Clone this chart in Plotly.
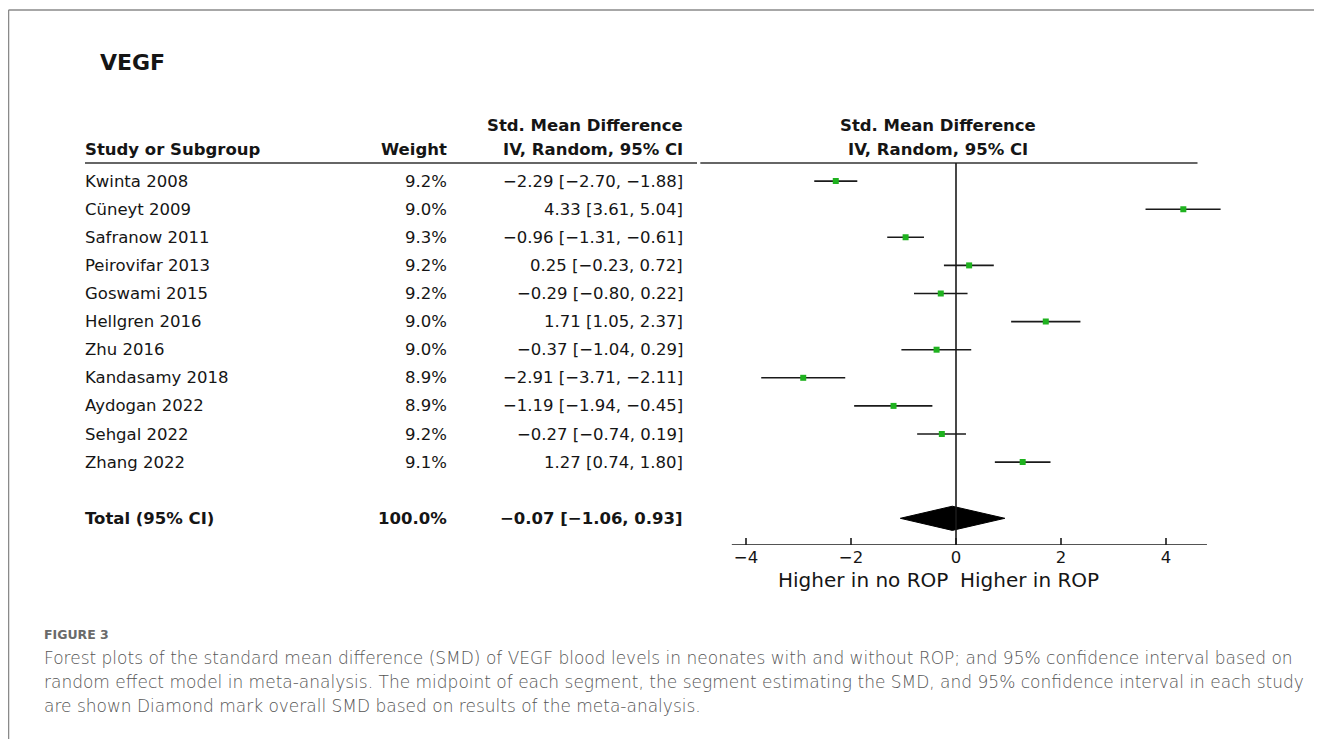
import plotly.graph_objects as go

# ---------------- data ----------------
studies = ["Kwinta 2008", "Cüneyt 2009", "Safranow 2011", "Peirovifar 2013", "Goswami 2015",
           "Hellgren 2016", "Zhu 2016", "Kandasamy 2018", "Aydogan 2022", "Sehgal 2022", "Zhang 2022"]
weights = ["9.2%", "9.0%", "9.3%", "9.2%", "9.2%", "9.0%", "9.0%", "8.9%", "8.9%", "9.2%", "9.1%"]
smd = [-2.29, 4.33, -0.96, 0.25, -0.29, 1.71, -0.37, -2.91, -1.19, -0.27, 1.27]
ci_low = [-2.70, 3.61, -1.31, -0.23, -0.80, 1.05, -1.04, -3.71, -1.94, -0.74, 0.74]
ci_high = [-1.88, 5.04, -0.61, 0.72, 0.22, 2.37, 0.29, -2.11, -0.45, 0.19, 1.80]

total_label = "Total (95% CI)"
total_weight = "100.0%"
total_smd = -0.07
total_low = -1.06
total_high = 0.93

tick_vals = [-4, -2, 0, 2, 4]
tick_text = ["\u22124", "\u22122", "0", "2", "4"]

title_text = "VEGF"
caption_label = "FIGURE 3"
caption_lines = [
    "Forest plots of the standard mean difference (SMD) of VEGF blood levels in neonates with and without ROP; and 95% confidence interval based on",
    "random effect model in meta-analysis. The midpoint of each segment, the segment estimating the SMD, and 95% confidence interval in each study",
    "are shown Diamond mark overall SMD based on results of the meta-analysis.",
]

# ---------------- layout helpers ----------------
W, H = 1306, 731          # figure size (body margin of 8px around it)
OFF = 8


def px(x):
    return (x - OFF) / W


def py(y):
    return 1 - (y - OFF) / H


def fmt(v):
    return f"{v:.2f}".replace("-", "\u2212")


rows = list(range(1, len(studies) + 1))
total_row = len(studies) + 2

FONT = "DejaVu Sans"
TXT = "#151515"
FS = 16.5

fig = go.Figure()

# CI lines
xs, ys = [], []
for r, lo, hi in zip(rows, ci_low, ci_high):
    xs += [lo, hi, None]
    ys += [r, r, None]
fig.add_trace(go.Scatter(x=xs, y=ys, mode="lines", line=dict(color="#1a1a1a", width=1.6),
                         hoverinfo="skip", showlegend=False))
# point estimates
fig.add_trace(go.Scatter(x=smd, y=rows, mode="markers",
                         marker=dict(symbol="square", size=6, color="#1fb21f", line=dict(width=0)),
                         showlegend=False))
# diamond
dh = 0.43
fig.add_trace(go.Scatter(x=[total_low, total_smd, total_high, total_smd, total_low],
                         y=[total_row, total_row - dh, total_row, total_row + dh, total_row],
                         mode="lines", fill="toself", fillcolor="#000000",
                         line=dict(color="#000000", width=1), showlegend=False, hoverinfo="skip"))

Y_AXIS = 13.95   # row position of the x-axis line
Y_HEAD = 0.356   # row position of the header rule
TK = 0.25        # half tick length in row units

shapes = []
# frame
shapes.append(dict(type="line", xref="paper", yref="paper", x0=0.0004, x1=1, y0=py(10), y1=py(10),
                   line=dict(color="#8a8a8a", width=1.5)))
shapes.append(dict(type="line", xref="paper", yref="paper", x0=0.0004, x1=0.0004, y0=py(10), y1=0,
                   line=dict(color="#8a8a8a", width=1.5)))
# header rule (table part)
shapes.append(dict(type="line", xref="paper", yref="y", x0=px(85), x1=px(697), y0=Y_HEAD, y1=Y_HEAD,
                   line=dict(color="#333", width=1.6)))
# header rule (plot part)
shapes.append(dict(type="line", xref="x", yref="y", x0=-4.87, x1=4.6, y0=Y_HEAD, y1=Y_HEAD,
                   line=dict(color="#333", width=1.6)))
# zero line
shapes.append(dict(type="line", xref="x", yref="y", x0=0, x1=0, y0=Y_HEAD, y1=Y_AXIS,
                   line=dict(color="#1a1a1a", width=1.6)))
# axis line
shapes.append(dict(type="line", xref="x", yref="y", x0=-4.27, x1=4.78, y0=Y_AXIS, y1=Y_AXIS,
                   line=dict(color="#1a1a1a", width=1.6)))
# crossing ticks
for tv in tick_vals:
    shapes.append(dict(type="line", xref="x", yref="y", x0=tv, x1=tv, y0=Y_AXIS - TK, y1=Y_AXIS + TK,
                       line=dict(color="#1a1a1a", width=1.6)))

ann = []


def add_text(x, y, text, xanchor, bold=False, size=FS, xref="paper", yref="y", color=TXT, font=FONT,
             weight=None):
    f = dict(family=font, size=size, color=color)
    if weight is not None:
        f["weight"] = weight
    ann.append(dict(x=x, y=y, xref=xref, yref=yref, text=f"<b>{text}</b>" if bold else text,
                    showarrow=False, xanchor=xanchor, yanchor="middle", font=f))


# title
add_text(px(98), py(62), title_text, "left", bold=True, size=22, yref="paper")
# headers
add_text(px(83), -0.107, "Study or Subgroup", "left", bold=True)
add_text(px(449), -0.107, "Weight", "right", bold=True)
add_text(px(685), -0.107, "IV, Random, 95% CI", "right", bold=True)
add_text(px(685), -0.996, "Std. Mean Difference", "right", bold=True)
add_text(0 - 0.35, -0.996, "Std. Mean Difference", "center", bold=True, xref="x")
add_text(0 - 0.35, -0.107, "IV, Random, 95% CI", "center", bold=True, xref="x")

# table rows
for r, s, w, m, lo, hi in zip(rows, studies, weights, smd, ci_low, ci_high):
    add_text(px(83), r, s, "left")
    add_text(px(449), r, w, "right")
    add_text(px(685), r, f"{fmt(m)} [{fmt(lo)}, {fmt(hi)}]", "right")

add_text(px(83), total_row, total_label, "left", bold=True)
add_text(px(449), total_row, total_weight, "right", bold=True)
add_text(px(685), total_row, f"{fmt(total_smd)} [{fmt(total_low)}, {fmt(total_high)}]", "right", bold=True)

# direction labels
add_text(-0.12, py(580), "Higher in no ROP", "right", xref="x", yref="paper", size=20)
add_text(0.03, py(580), "Higher in ROP", "left", xref="x", yref="paper", size=20)

# caption
CAP_FONT = "DejaVu Sans"
add_text(px(42), py(634), caption_label, "left", size=12.5, yref="paper", color="#6a6a6a", font=CAP_FONT,
         weight=600)
for i, line in enumerate(caption_lines):
    add_text(px(42), py(658 + 24 * i), line, "left", size=17.0, yref="paper", color="#555555",
             font=CAP_FONT, weight=300)

fig.update_layout(
    width=W, height=H, autosize=False,
    margin=dict(l=0, r=0, t=0, b=0),
    paper_bgcolor="white", plot_bgcolor="white",
    showlegend=False,
    shapes=shapes, annotations=ann,
    xaxis=dict(domain=[px(698.75), px(1234.25)], range=[-4.9, 5.3], showgrid=False, zeroline=False,
               showline=False, tickmode="array", tickvals=tick_vals, ticktext=tick_text,
               ticks="", tickfont=dict(family=FONT, size=FS, color=TXT), fixedrange=True),
    yaxis=dict(domain=[py(545), py(100)], range=[Y_AXIS, -1.886], visible=False, fixedrange=True),
)

fig.write_html("out.html")
